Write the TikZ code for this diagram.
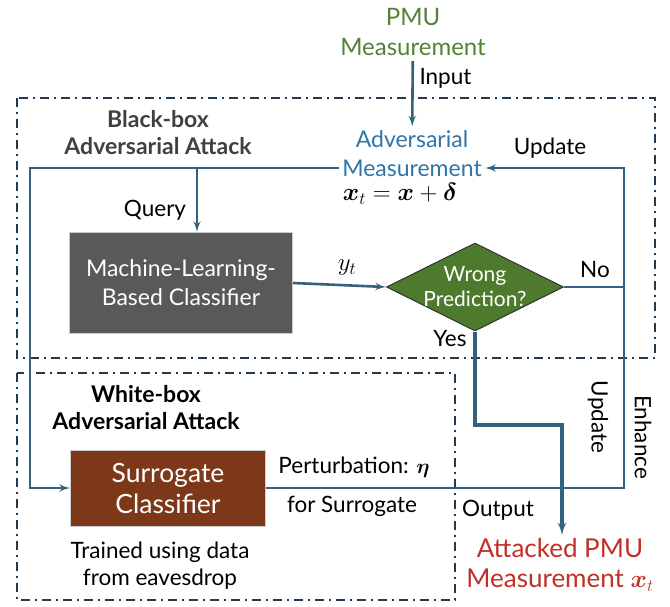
\documentclass[tikz,border=0pt]{standalone}
\usepackage{amsmath}
\usepackage{amssymb}
\usepackage{bm}
\usepackage{fontspec}
\setmainfont{Lato}
\usepackage{tikz}
\usetikzlibrary{arrows,shapes.geometric}
\definecolor{lineblue}{RGB}{50,97,130}
\definecolor{frameblue}{RGB}{34,58,80}
\definecolor{pmugreen}{RGB}{84,130,53}
\definecolor{advblue}{RGB}{46,117,168}
\definecolor{mlgray}{RGB}{89,89,89}
\definecolor{decgreen}{RGB}{78,122,46}
\definecolor{surbrown}{RGB}{124,56,24}
\definecolor{attred}{RGB}{192,48,40}
\definecolor{titlegray}{RGB}{64,64,64}
\tikzset{block/.style = {shape = rectangle, draw = gray!40, line width = 1pt, text = white, align = center, font = \fontsize{23}{29}\selectfont}}
\tikzset{edge/.style = {->, > = latex', draw = lineblue, line width = 2.6pt}}
\tikzset{frame/.style = {draw = frameblue, line width = 1.6pt, dash pattern = on 9pt off 5pt on 2pt off 5pt}}
\tikzset{lbl/.style = {align = center, font = \fontsize{22.5}{27}\selectfont}}
\tikzset{title/.style = {align = center, text = titlegray, font = \bfseries\fontsize{23}{27}\selectfont}}

\begin{document}
\begin{tikzpicture}[x = 1pt, y = -1pt]
			\useasboundingbox (0, 0) rectangle (670, 606);

			\draw[frame] (17, 98) rectangle (655, 358);
			\draw[frame] (17, 373) rectangle (455, 600);

			\node[lbl, text = pmugreen, font = \fontsize{24}{30}\selectfont] (pmu) at (413, 32) {PMU\\Measurement};
			\node[lbl, text = advblue, font = \fontsize{23}{29}\selectfont] (adv) at (412, 154) {Adversarial\\Measurement};
			\node (eq) at (400, 194) {\fontsize{23}{26}\selectfont$\bm{x}_t = \bm{x} + \bm{\delta}$};
			\node[block, fill = mlgray, minimum width = 223pt, minimum height = 101pt] (ml) at (181, 283) {Machine-Learning-\\Based Classifier};
			\node[diamond, aspect = 2, draw = black!80, line width = 1pt, fill = decgreen, text = white, inner sep = -7pt, minimum width = 177pt, minimum height = 88pt, align = center, font = \fontsize{21}{25}\selectfont] (dec) at (475, 287) {Wrong\\Prediction?};
			\node[block, fill = surbrown, minimum width = 195pt, minimum height = 76pt, font = \fontsize{26.5}{31}\selectfont] (sur) at (168, 488) {Surrogate\\Classifier};
			\node[lbl, text = attred, font = \fontsize{26}{30}\selectfont] (att) at (560, 565) {Attacked PMU\\Measurement $\bm{x}_t$};

			\node[title] (bbox) at (158, 133) {Black-box\\Adversarial Attack};
			\node[title, text = black] (wbox) at (146, 408) {White-box\\Adversarial Attack};
			\node[lbl] (trn) at (160, 566) {Trained using data\\from eavesdrop};

			\coordinate (lft) at (30, 168);
			\coordinate (qry) at (197, 168);
			\coordinate (rgt) at (624, 168);
			\coordinate (yes) at (562, 425);

			\draw[edge, shorten <= 2pt, shorten >= 1pt] (pmu) -- (adv);
			\draw[edge] (adv.west |- lft) -- (lft) |- (sur.west);
			\draw[edge] (qry) -- (qry |- ml.north);
			\draw[edge] (ml.east) -- (dec.west);
			\draw[edge, -] (dec.east) -- (dec.east -| rgt);
			\draw[edge] (sur.east) -| (rgt) -- (adv.east |- rgt);
			\draw[edge, line width = 3.2pt] (dec.south) |- (yes) -- (yes |- att.north);

			\node[lbl, anchor = west] at (416, 78) {Input};
			\node[lbl] at (550, 148) {Update};
			\node[lbl] at (155, 210) {Query};
			\node at (347, 268) {\fontsize{24}{26}\selectfont$y_t$};
			\node[lbl] at (595, 270) {No};
			\node[lbl] at (450, 339) {Yes};
			\node[lbl, rotate = -90] at (598, 417) {Update};
			\node[lbl, rotate = -90] at (643, 437) {Enhance};
			\node[lbl] at (354, 467) {Perturbation: $\bm{\eta}$};
			\node[lbl] at (352, 506) {for Surrogate};
			\node[lbl] at (498, 510) {Output};
		\end{tikzpicture}
\end{document}
